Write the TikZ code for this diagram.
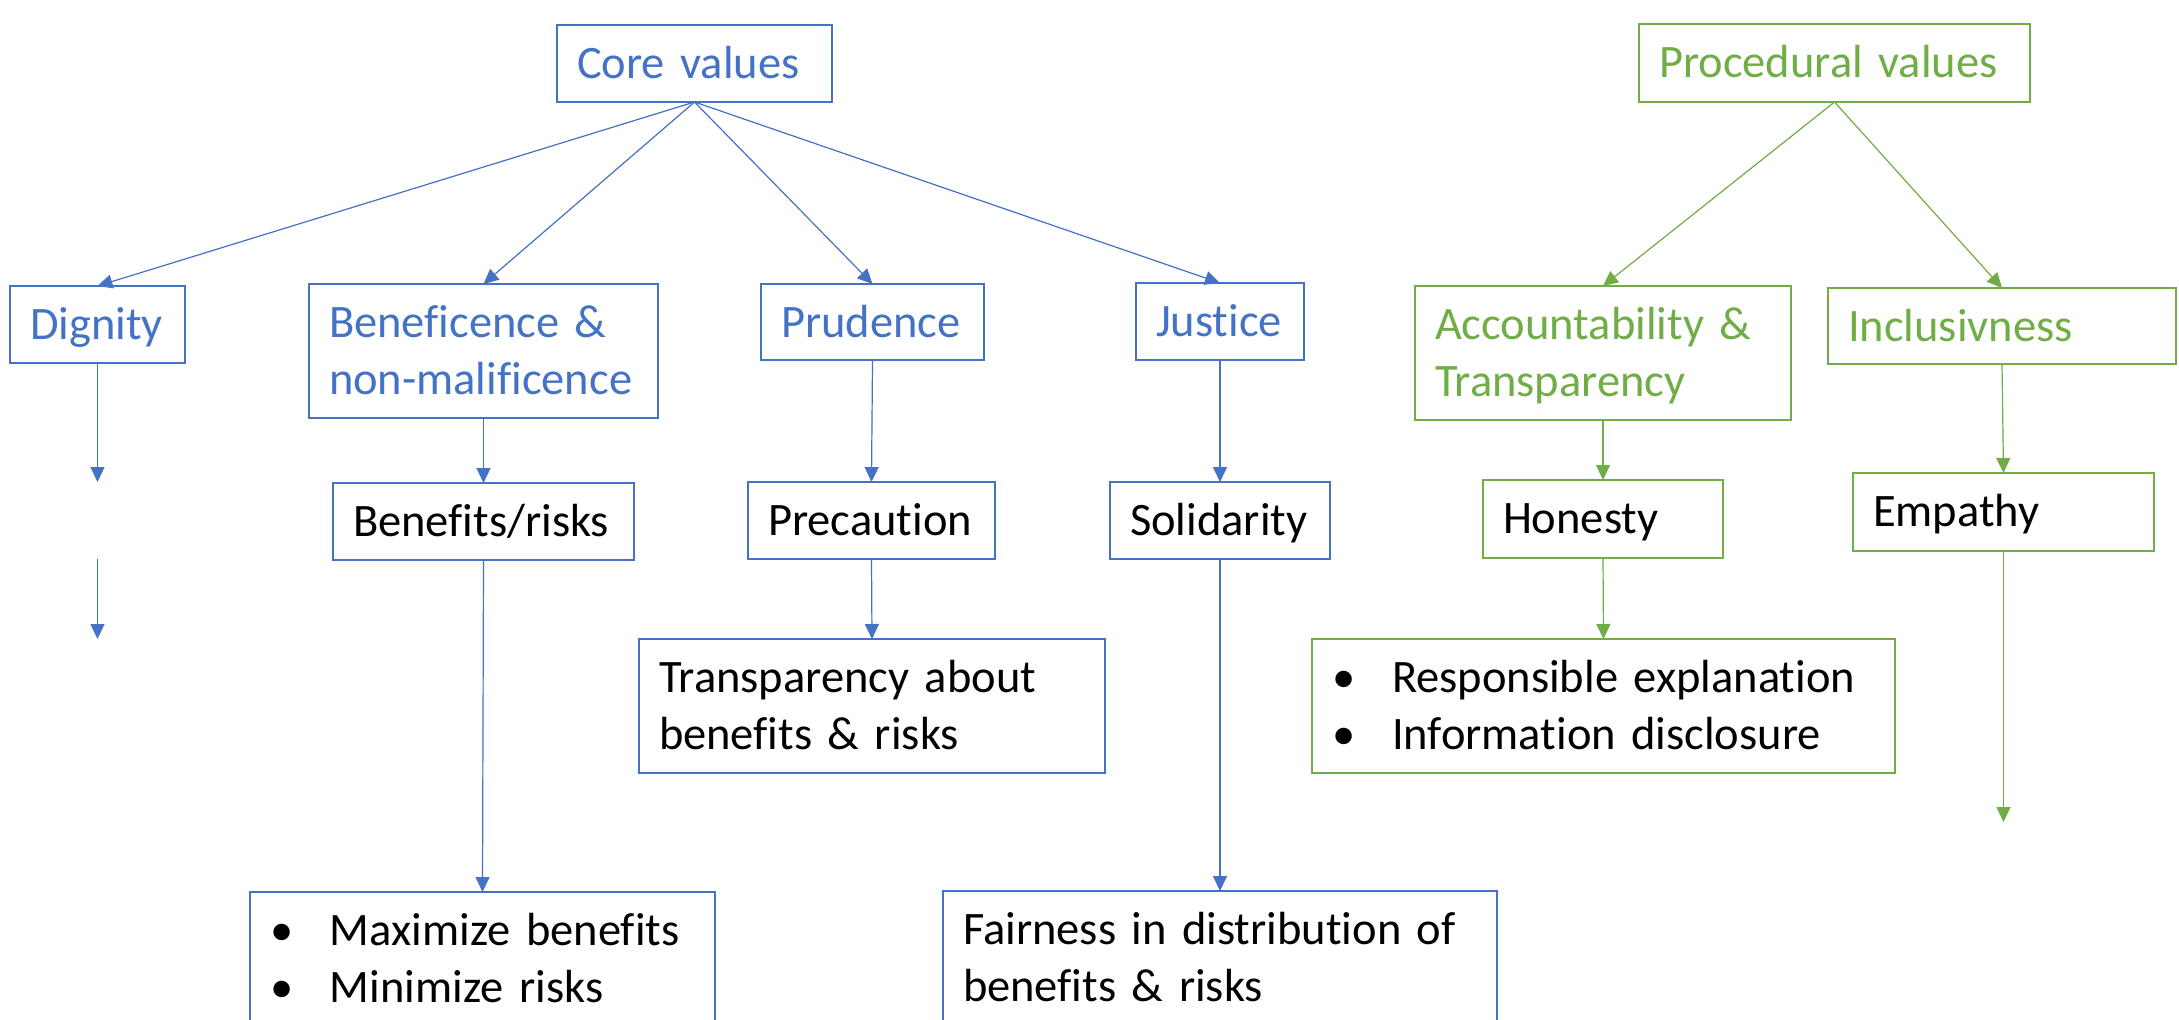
\documentclass[tikz,border=0pt]{standalone}
\usepackage{fontspec}
\setmainfont{Carlito}[Ligatures={NoCommon},WordSpace={0.82,0,0}]
\usetikzlibrary{arrows.meta}
\definecolor{cblue}{HTML}{4472C4}
\definecolor{cgreen}{HTML}{70AD47}
\newcommand\vbx[7]{%
 \pgfmathsetmacro\vbxtw{(#4-#2)/2-20}%
 \pgfmathsetmacro\vbxtd{(#5-#3)/2-26.5}%
 \node[vbox,#6,text width=\vbxtw pt,text depth=\vbxtd pt] (#1) at (#2,#3) {#7};}
\newcommand\blt{\makebox[30pt][l]{\textbullet}}
\begin{document}
\begin{tikzpicture}[x=0.5pt,y=-0.5pt,
 vbox/.style={draw,line width=1.3pt,anchor=north west,inner xsep=10pt,inner ysep=0pt,outer sep=0pt,align=left,text height=26.5pt,font=\fontsize{23.25}{28.5}\selectfont},
 bluetop/.style={draw=cblue,text=cblue},
 bluelow/.style={draw=cblue,text=black},
 greentop/.style={draw=cgreen,text=cgreen},
 greenlow/.style={draw=cgreen,text=black},
 conn/.style={line width=0.6pt,-{Triangle[width=7pt,length=7.5pt]}},
 bconn/.style={conn,draw=cblue,fill=cblue},
 gconn/.style={conn,draw=cgreen,fill=cgreen}]
\useasboundingbox (0,0) rectangle (2179,1019);
\clip (0,0) rectangle (2179,1019);
% top level
\vbx{core}{557}{25}{832}{102}{bluetop}{Core values}
\vbx{proc}{1639}{24}{2030}{102}{greentop}{Procedural values}
% second level
\vbx{dig}{10}{286}{185}{363}{bluetop}{Dignity}
\vbx{ben}{309}{284}{658}{418}{bluetop}{Beneficence \&\\non-malificence}
\vbx{pru}{761}{284}{984}{360}{bluetop}{Prudence}
\vbx{jus}{1136}{283}{1304}{360}{bluetop}{Justice}
\vbx{acc}{1415}{286}{1791}{420}{greentop}{Accountability \&\\Transparency}
\vbx{inc}{1828}{288}{2176}{364}{greentop}{Inclusivness}
% third level
\vbx{bri}{333}{483}{634}{560}{bluelow}{Benefits/risks}
\vbx{pre}{748}{482}{995}{559}{bluelow}{Precaution}
\vbx{sol}{1110}{482}{1330}{559}{bluelow}{Solidarity}
\vbx{hon}{1483}{480}{1723}{558}{greenlow}{Honesty}
\vbx{emp}{1853}{473}{2154}{551}{greenlow}{Empathy}
% fourth level
\vbx{tra}{639}{639}{1105}{773}{bluelow}{Transparency about\\benefits \& risks}
\vbx{res}{1312}{639}{1895}{773}{greenlow}{\blt Responsible explanation\\\blt Information disclosure}
\vbx{max}{250}{892}{715}{1100}{bluelow}{\blt Maximize benefits\\\blt Minimize risks}
\vbx{fai}{943}{891}{1497}{1100}{bluelow}{Fairness in distribution of\\benefits \& risks}
% free ends
\coordinate (d1) at (97.5,482);
\coordinate (d2) at (97.5,559);
\coordinate (d3) at (97.5,639);
\coordinate (e1) at (2003.5,822);
% connectors
\draw[bconn] (core.south) -- (dig.north);
\draw[bconn] (core.south) -- (ben.north);
\draw[bconn] (core.south) -- (pru.north);
\draw[bconn] (core.south) -- (jus.north);
\draw[gconn] (proc.south) -- (acc.north);
\draw[gconn] (proc.south) -- (inc.north);
\draw[bconn] (dig.south) -- (d1);
\draw[bconn] (d2) -- (d3);
\draw[bconn] (ben.south) -- (bri.north);
\draw[bconn] (pru.south) -- (pre.north);
\draw[bconn] (jus.south) -- (sol.north);
\draw[gconn] (acc.south) -- (hon.north);
\draw[gconn] (inc.south) -- (emp.north);
\draw[bconn] (bri.south) -- (max.north);
\draw[bconn] (pre.south) -- (tra.north);
\draw[bconn] (sol.south) -- (fai.north);
\draw[gconn] (hon.south) -- (res.north);
\draw[gconn] (emp.south) -- (e1);
\end{tikzpicture}
\end{document}
